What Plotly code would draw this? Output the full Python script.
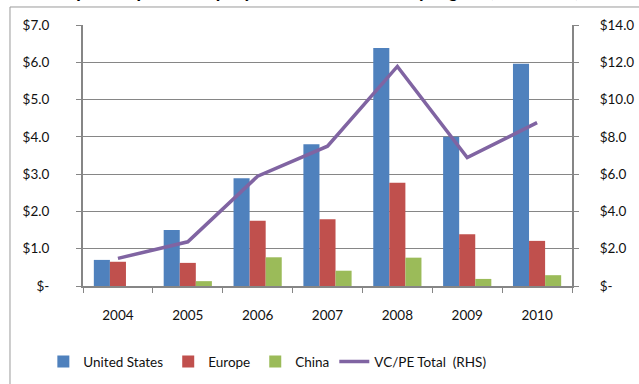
import plotly.graph_objects as go

# Investment totals by year, USD billions
years = ["2004", "2005", "2006", "2007", "2008", "2009", "2010"]
united_states = [0.70, 1.50, 2.89, 3.80, 6.38, 4.00, 5.96]
europe = [0.65, 0.62, 1.75, 1.79, 2.77, 1.39, 1.21]
china = [0.0, 0.13, 0.77, 0.41, 0.76, 0.19, 0.29]
vcpe_total = [1.48, 2.37, 5.89, 7.50, 11.78, 6.89, 8.76]

left_ticks = [0, 1, 2, 3, 4, 5, 6, 7]
left_labels = ["$-", "$1.0", "$2.0", "$3.0", "$4.0", "$5.0", "$6.0", "$7.0"]
right_ticks = [0, 2, 4, 6, 8, 10, 12, 14]
right_labels = ["$-", "$2.0", "$4.0", "$6.0", "$8.0", "$10.0", "$12.0", "$14.0"]

title_text = "Venture capital & private equity investment totals by region ($ USD bn)"

FONT = "Lato, 'Open Sans', sans-serif"
AXIS_GREY = "#868686"

fig = go.Figure()
fig.add_trace(go.Bar(x=years, y=united_states, name="United States",
                     marker=dict(color="#4F81BD", line=dict(width=0))))
fig.add_trace(go.Bar(x=years, y=europe, name="Europe",
                     marker=dict(color="#C0504D", line=dict(width=0))))
fig.add_trace(go.Bar(x=years, y=china, name="China",
                     marker=dict(color="#9BBB59", line=dict(width=0))))
fig.add_trace(go.Scatter(x=years, y=vcpe_total, name="VC/PE Total  (RHS)",
                         mode="lines", yaxis="y2",
                         line=dict(color="#8064A2", width=3.5)))

fig.update_layout(
    width=639, height=384,
    margin=dict(l=83, r=67, t=25, b=98, autoexpand=False),
    paper_bgcolor="white", plot_bgcolor="white",
    font=dict(family=FONT, size=13.5, color="#111111"),
    barmode="group", bargap=0.31, bargroupgap=0,
    showlegend=True,
    legend=dict(orientation="h", x=0.377, xanchor="center", y=-0.29, yanchor="middle",
                font=dict(size=13.5), itemwidth=30, traceorder="normal"),
    xaxis=dict(type="category", tickson="boundaries", ticks="outside", ticklen=5,
               tickcolor=AXIS_GREY, showline=True, linecolor=AXIS_GREY, linewidth=2,
               showgrid=False, ticklabelstandoff=16),
    yaxis=dict(range=[0, 7], tickvals=left_ticks, ticktext=left_labels,
               ticks="outside", ticklen=5, tickcolor=AXIS_GREY,
               showline=True, linecolor=AXIS_GREY, linewidth=2,
               showgrid=True, gridcolor=AXIS_GREY, gridwidth=1,
               zeroline=False, ticklabelstandoff=24),
    yaxis2=dict(range=[0, 14], tickvals=right_ticks, ticktext=right_labels,
                overlaying="y", side="right",
                ticks="outside", ticklen=5, tickcolor=AXIS_GREY,
                showline=True, linecolor=AXIS_GREY, linewidth=2,
                showgrid=False, zeroline=False, ticklabelstandoff=18),
    shapes=[dict(type="rect", xref="paper", yref="paper",
                 x0=-0.1493, x1=1.4, y0=-0.6, y1=1.069,
                 line=dict(color="#9a9a9a", width=1), fillcolor="rgba(0,0,0,0)",
                 layer="below")],
    annotations=[dict(text=title_text, xref="paper", yref="paper",
                      x=-0.2, xanchor="left", y=1.086, yanchor="bottom",
                      showarrow=False,
                      font=dict(family=FONT, size=20, color="#000000",
                                weight="bold", style="italic"))],
)

fig.write_html("out.html")
